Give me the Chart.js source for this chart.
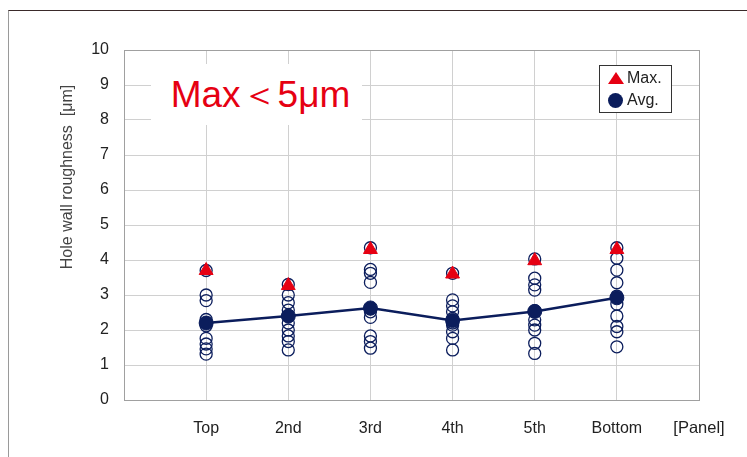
<!DOCTYPE html>
<html>
<head>
<meta charset="utf-8">
<script src="https://cdn.jsdelivr.net/npm/chart.js@4.4.1/dist/chart.umd.min.js"></script>
<style>
  body { margin:0; background:#fff; font-family:"Liberation Sans", Arial, sans-serif; }
  #wrap { position:relative; width:747px; height:457px; overflow:hidden; }
  #frame { position:absolute; left:8px; top:10px; right:-2px; bottom:-2px;
           border-top:1.5px solid #3a2a2a; border-left:1.5px solid #9a9a9a; }
  #ytitle { position:absolute; left:67px; top:177px; transform:translate(-50%,-50%) rotate(-90deg);
            white-space:nowrap; font-size:16px; color:#444; }
  #note { position:absolute; left:151px; top:64px; width:211px; height:61px; background:#fff;
          color:#e60012; font-size:37px; line-height:61px; text-align:center; padding-left:8px; box-sizing:border-box; }
  #legend { position:absolute; left:599px; top:65px; width:73px; height:48px; background:#fff;
            border:1.5px solid #333; box-sizing:border-box; font-size:16px; color:#222; }
  #legend .row { position:absolute; left:0; height:20px; line-height:20px; }
  #legend .tri { position:absolute; left:8px; top:4px; width:0; height:0;
                 border-left:8px solid transparent; border-right:8px solid transparent; border-bottom:12px solid #e60012; }
  #legend .dot { position:absolute; left:8px; top:3px; width:15px; height:15px; border-radius:50%; background:#0b1d5c; }
  #legend .lab { position:absolute; left:27px; top:0; }
</style>
</head>
<body>
<div id="wrap">
  <canvas id="myChart" width="747" height="457"></canvas>
  <div id="frame"></div>
  <div id="ytitle">Hole wall roughness&nbsp;&nbsp;[μm]</div>
  <div id="note">Max＜5μm</div>
  <div id="legend">
    <div class="row" style="top:2px"><span class="tri"></span><span class="lab">Max.</span></div>
    <div class="row" style="top:24px"><span class="dot"></span><span class="lab">Avg.</span></div>
  </div>
</div>
<script>
// panels on the x axis
var panels = ['Top', '2nd', '3rd', '4th', '5th', 'Bottom'];
var axisUnit = '[Panel]';
var yTicks = [0, 1, 2, 3, 4, 5, 6, 7, 8, 9, 10];

// individual measurements per panel (um)
var measTop    = [3.7, 3.0, 2.84, 2.3, 2.21, 2.12, 1.76, 1.6, 1.46, 1.31];
var meas2nd    = [3.3, 3.0, 2.78, 2.57, 2.4, 2.2, 2.0, 1.83, 1.67, 1.43];
var meas3rd    = [4.35, 3.73, 3.62, 3.36, 2.6, 2.52, 2.36, 1.83, 1.67, 1.48];
var meas4th    = [3.62, 2.86, 2.69, 2.52, 2.33, 2.2, 2.14, 1.95, 1.76, 1.43];
var meas5th    = [4.03, 3.48, 3.29, 3.14, 2.55, 2.29, 2.14, 2.0, 1.62, 1.33];
var measBottom = [4.35, 4.05, 3.71, 3.35, 2.97, 2.74, 2.4, 2.1, 1.95, 1.52];

var maxValues = [3.7, 3.27, 4.3, 3.6, 3.98, 4.3];
var avgValues = [2.2, 2.4, 2.63, 2.27, 2.53, 2.92];

var navy = '#0b1d5c';
var red = '#e60012';

var allMeas = [measTop, meas2nd, meas3rd, meas4th, meas5th, measBottom];
var measPoints = [];
allMeas.forEach(function(list, i){
  list.forEach(function(v){ measPoints.push({x: i + 1, y: v}); });
});
var avgPoints = avgValues.map(function(v, i){ return {x: i + 1, y: v}; });
var maxPoints = maxValues.map(function(v, i){ return {x: i + 1, y: v}; });

var ctx = document.getElementById('myChart').getContext('2d');
var chart = new Chart(ctx, {
  type: 'scatter',
  data: {
    datasets: [{
      label: 'Max.',
      data: maxPoints,
      pointStyle: 'triangle',
      pointRadius: 8,
      backgroundColor: red,
      borderColor: red,
      borderWidth: 1,
      order: 0
    },
    {
      label: 'Avg.',
      data: avgPoints,
      showLine: true,
      borderColor: navy,
      backgroundColor: navy,
      borderWidth: 2.5,
      pointRadius: 7,
      pointBorderWidth: 1,
      order: 1
    },
    {
      label: 'data',
      data: measPoints,
      pointRadius: 6,
      borderColor: navy,
      backgroundColor: 'rgba(255,255,255,0)',
      borderWidth: 1.3,
      order: 2
    }]
  },
  options: {
    responsive: false,
    animation: false,
    devicePixelRatio: 1,
    layout: { padding: { left: 0, right: 48, top: 50, bottom: 0 } },
    plugins: { legend: { display: false }, tooltip: { enabled: false } },
    scales: {
      x: {
        type: 'linear', min: 0, max: 7,
        afterFit: function(s){ s.height = 57; },
        afterBuildTicks: function(s){ s.ticks = [0,1,2,3,4,5,6,7].map(function(v){ return {value: v}; }); },
        ticks: {
          autoSkip: false, maxRotation: 0, padding: 19, color: '#222',
          font: function(c){ return {family: "'Liberation Sans', Arial", size: (c.tick && c.tick.value === 7) ? 16.5 : 16}; },
          callback: function(v){ if (v === 7) return axisUnit; return panels[v - 1] || ''; }
        },
        grid: { color: '#d0d0d0', lineWidth: 1, drawTicks: false },
        border: { color: '#a0a0a0', width: 1 }
      },
      y: {
        min: 0, max: 10,
        afterFit: function(s){ s.width = 124; },
        afterBuildTicks: function(s){ s.ticks = yTicks.map(function(v){ return {value: v}; }); },
        ticks: { padding: 15, color: '#222', font: { family: "'Liberation Sans', Arial", size: 16 } },
        grid: { color: '#d0d0d0', lineWidth: 1, drawTicks: false },
        border: { color: '#a0a0a0', width: 1 }
      }
    }
  },
  plugins: [{
    id: 'plotBox',
    afterDraw: function(c){
      var a = c.chartArea, g = c.ctx;
      g.save();
      g.strokeStyle = '#a0a0a0';
      g.lineWidth = 1;
      g.strokeRect(Math.round(a.left) + 0.5, Math.round(a.top) + 0.5, Math.round(a.right - a.left), Math.round(a.bottom - a.top));
      g.restore();
    }
  }]
});
</script>
</body>
</html>
